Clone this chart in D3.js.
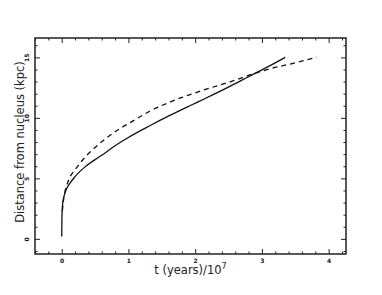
<!DOCTYPE html>
<html>
<head>
<meta charset="utf-8" />
<title>Distance from nucleus</title>
<style>
body { margin: 0; background: #fff; }
#graph { width: 382px; height: 295px; font-family: "Liberation Sans", Arial, sans-serif; }
svg { opacity: 0.999; }
.axis path { display: none; }
.axis line { stroke: #222; stroke-width: 1; }
.axis text { font-size: 6px; font-weight: bold; fill: #111; font-family: "DejaVu Sans", sans-serif; }
</style>
</head>
<body>
<div id="graph"></div>
<script src="https://cdnjs.cloudflare.com/ajax/libs/d3/7.8.5/d3.min.js"></script>
<script>
// solid curve
var solidT = [0, 0.004, 0.015, 0.05, 0.125, 0.2, 0.35, 0.5, 0.65, 0.8, 1.02, 1.32, 1.62, 1.92, 2.15, 2.52, 2.8, 3.1, 3.35]
var solidD = [0.2, 1.8, 2.95, 3.8, 4.6, 5.15, 5.95, 6.55, 7.1, 7.7, 8.45, 9.35, 10.2, 11.0, 11.6, 12.6, 13.4, 14.25, 15.0]
// dashed curve
var dashT = [0.01, 0.025, 0.1, 0.2, 0.35, 0.5, 0.65, 0.8, 1.07, 1.32, 1.62, 2.1, 2.62, 2.82, 3.12, 3.5, 3.82]
var dashD = [2.3, 3.1, 4.8, 5.7, 6.75, 7.55, 8.25, 8.85, 9.75, 10.55, 11.3, 12.25, 13.15, 13.55, 14.05, 14.55, 15.0]

var xTicks = [0, 1, 2, 3, 4]
var yTicks = [0, 5, 10, 15]

!(function(){
    "use strict"

    var width = 382, height = 295
    var margin = {top: 38, left: 35, bottom: 41, right: 36}
    var chartWidth = width - margin.left - margin.right
    var chartHeight = height - margin.top - margin.bottom

    var svg = d3.select("#graph").append("svg").attr("width", width).attr("height", height)
    var chart = svg.append("g").attr("transform", "translate(" + [margin.left, margin.top] + ")")

    var x = d3.scaleLinear().domain([-0.4, 4.26]).range([0, chartWidth])
    var y = d3.scaleLinear().domain([-1.25, 16.6]).range([chartHeight, 0])

    var xMinor = d3.range(-0.4, 4.21, 0.2).filter(function(v){ return Math.abs(v - Math.round(v)) > 0.01 })
    var yMinor = d3.range(-1, 16.5, 1).filter(function(v){ return v % 5 !== 0 })

    var none = function(){ return "" }

    function ticks(axis, vals, size, fmt, tr) {
        return chart.append("g").attr("class", "axis").attr("transform", "translate(" + tr + ")")
            .call(axis.tickValues(vals).tickSize(size).tickPadding(4).tickFormat(fmt))
    }

    // bottom
    ticks(d3.axisBottom(x), xTicks, -5, d3.format("d"), [0, chartHeight])
        .selectAll("text").attr("dy", "0.9em")
    ticks(d3.axisBottom(x), xMinor, -2.5, none, [0, chartHeight])
    // top
    ticks(d3.axisTop(x), xTicks, -5, none, [0, 0])
    ticks(d3.axisTop(x), xMinor, -2.5, none, [0, 0])
    // left, labels rotated
    ticks(d3.axisLeft(y), yTicks, -5, d3.format("d"), [0, 0])
        .selectAll("text")
        .attr("text-anchor", "middle")
        .attr("x", 0).attr("y", 0).attr("dy", 0)
        .attr("transform", "translate(-6,0) rotate(-90)")
    ticks(d3.axisLeft(y), yMinor, -2.5, none, [0, 0])
    // right
    ticks(d3.axisRight(y), yTicks, -5, none, [chartWidth, 0])
    ticks(d3.axisRight(y), yMinor, -2.5, none, [chartWidth, 0])

    chart.append("rect")
        .attr("width", chartWidth).attr("height", chartHeight)
        .attr("fill", "none").attr("stroke", "#222").attr("stroke-width", 1.5)

    var line = d3.line()
        .x(function(d){ return x(d[0]) })
        .y(function(d){ return y(d[1]) })
        .curve(d3.curveMonotoneX)

    chart.append("path")
        .datum(d3.zip(solidT, solidD))
        .attr("d", line).attr("fill", "none").attr("stroke", "#111").attr("stroke-width", 1.3)

    chart.append("path")
        .datum(d3.zip(dashT, dashD))
        .attr("d", line).attr("fill", "none").attr("stroke", "#111").attr("stroke-width", 1.3)
        .attr("stroke-dasharray", "5,4")

    var xl = svg.append("text")
        .attr("x", margin.left + chartWidth / 2).attr("y", 274)
        .attr("text-anchor", "middle").attr("font-size", 11.5).attr("fill", "#222")
        .attr("font-family", "DejaVu Sans, sans-serif")
    xl.append("tspan").text("t (years)/10")
    xl.append("tspan").attr("dy", -5).attr("font-size", 8).text("7")

    svg.append("text")
        .attr("transform", "translate(24," + (margin.top + chartHeight / 2 - 4) + ") rotate(-90)")
        .attr("text-anchor", "middle").attr("font-size", 11.5).attr("fill", "#222")
        .attr("font-family", "DejaVu Sans, sans-serif")
        .text("Distance from nucleus (kpc)")
}());
</script>
</body>
</html>
